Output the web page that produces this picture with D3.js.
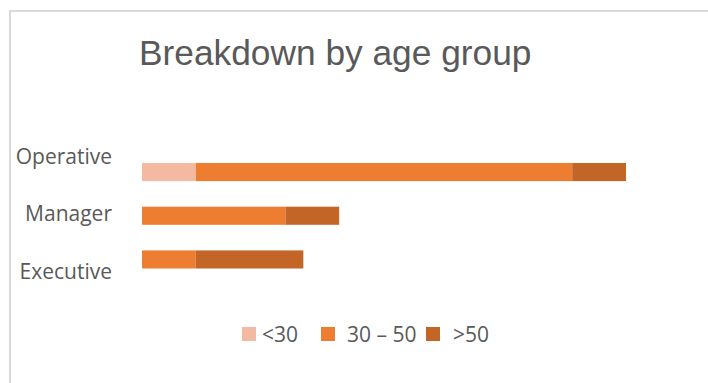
<!DOCTYPE html>
<html>
<head>
<meta charset="utf-8">
<script src="https://cdn.jsdelivr.net/npm/d3@7"></script>
<style>
  body { margin: 0; background: #fff; }
  svg { display: block; }
</style>
</head>
<body>
<svg id="chart" width="708" height="383"></svg>
<script>
var categories = ["Operative", "Manager", "Executive"];
var groups = ["<30", "30 \u2013 50", ">50"];
var under30 = [3, 0, 0];
var mid30to50 = [21, 8, 3];
var over50 = [3, 3, 6];
var colors = ["#F4B9A1", "#ED7D31", "#C46528"];

var svg = d3.select("#chart");

// frame
svg.append("rect")
	.attr("x", 10).attr("y", 11)
	.attr("width", 720).attr("height", 400)
	.attr("fill", "#fff")
	.attr("stroke", "#D9D9D9")
	.attr("stroke-width", 2);

svg.append("text")
	.attr("x", 139).attr("y", 65)
	.attr("font-family", "Liberation Sans, Arial, sans-serif")
	.attr("font-size", 35.3)
	.attr("fill", "#595959")
	.text("Breakdown by age group");

var rows = categories.map(function(c, i){
	return {cat: c, "<30": under30[i], "30 \u2013 50": mid30to50[i], ">50": over50[i]};
});

var stack = d3.stack().keys(groups);
var series = stack(rows);

var x = d3.scaleLinear().domain([0, 27]).range([142, 626]);
var yBar = d3.scaleBand().domain(categories).range([163, 268.5]).paddingInner(0.586).paddingOuter(0);
var yLabel = d3.scaleBand().domain(categories).range([128, 300]);

svg.selectAll("g.series")
	.data(series)
	.enter()
	.append("g")
	.attr("class", "series")
	.attr("fill", function(d, i){ return colors[i]; })
	.selectAll("rect")
	.data(function(d){ return d; })
	.enter()
	.append("rect")
	.attr("x", function(d){ return x(d[0]); })
	.attr("y", function(d){ return yBar(d.data.cat); })
	.attr("width", function(d){ return x(d[1]) - x(d[0]); })
	.attr("height", yBar.bandwidth());

svg.selectAll("text.cat")
	.data(categories)
	.enter()
	.append("text")
	.attr("class", "cat")
	.attr("x", 112)
	.attr("y", function(d){ return yLabel(d) + yLabel.bandwidth() / 2; })
	.attr("dy", "0.35em")
	.attr("text-anchor", "end")
	.attr("font-family", "Open Sans, sans-serif")
	.attr("font-size", 21)
	.attr("fill", "#595959")
	.text(function(d){ return d; });

// legend
var legendX = [242, 321, 426];
var legendTextX = [262, 347, 453];
var legend = svg.selectAll("g.legend")
	.data(groups)
	.enter()
	.append("g")
	.attr("class", "legend");

legend.append("rect")
	.attr("x", function(d, i){ return legendX[i]; })
	.attr("y", 327)
	.attr("width", 14).attr("height", 14)
	.attr("fill", function(d, i){ return colors[i]; });

legend.append("text")
	.attr("x", function(d, i){ return legendTextX[i]; })
	.attr("y", 342)
	.attr("font-family", "Open Sans, sans-serif")
	.attr("font-size", 21)
	.attr("fill", "#595959")
	.text(function(d){ return d; });
</script>
</body>
</html>
